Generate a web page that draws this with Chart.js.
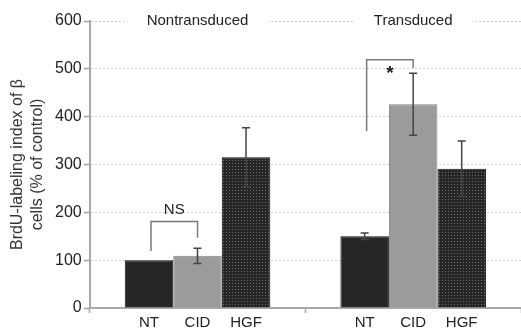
<!DOCTYPE html>
<html>
<head>
<meta charset="utf-8">
<script src="https://cdn.jsdelivr.net/npm/chart.js@4.4.1/dist/chart.umd.min.js"></script>
<style>
    html, body { margin: 0; padding: 0; background: #fff; }
</style>
</head>
<body>
<canvas id="brdu" width="521" height="333"></canvas>
<script>
const groups = ["Nontransduced", "Transduced"];
const treatments = ["NT", "CID", "HGF"];
const ntValues = [100, 150];
const cidValues = [109, 426];
const hgfValues = [315, 291];
const ntErrors = [0, 7];
const cidErrors = [16, 65];
const hgfErrors = [62, 58];
// significance brackets, in data units
const bracketGroups = [0, 1];
const bracketTops = [181, 519];
const bracketLeftFeet = [119, 370];
const bracketRightFeet = [147, 502];
const bracketLabels = ["NS", "*"];
const bracketLabelBase = [197, 478];

const FONT = "'Liberation Sans', Arial, sans-serif";

function dotPattern() {
    const c = document.createElement("canvas");
    c.width = 3;
    c.height = 3;
    const g = c.getContext("2d");
    g.fillStyle = "#262626";
    g.fillRect(0, 0, 3, 3);
    g.fillStyle = "#6a6a6a";
    g.fillRect(1, 1, 1, 1);
    return g.createPattern(c, "repeat");
}

const annotate = {
    id: "annotate",
    afterDatasetsDraw(chart) {
        const ctx = chart.ctx;
        const y = chart.scales.y;
        const vals = [ntValues, cidValues, hgfValues];
        const errs = [ntErrors, cidErrors, hgfErrors];

        // error bars
        ctx.save();
        ctx.strokeStyle = "#444";
        ctx.lineWidth = 1.5;
        errs.forEach((e, di) => {
            chart.getDatasetMeta(di).data.forEach((bar, gi) => {
                if (!e[gi]) return;
                const hi = y.getPixelForValue(vals[di][gi] + e[gi]);
                const lo = y.getPixelForValue(vals[di][gi] - e[gi]);
                ctx.beginPath();
                ctx.moveTo(bar.x, hi);
                ctx.lineTo(bar.x, lo);
                ctx.moveTo(bar.x - 4, hi);
                ctx.lineTo(bar.x + 4, hi);
                ctx.moveTo(bar.x - 4, lo);
                ctx.lineTo(bar.x + 4, lo);
                ctx.stroke();
            });
        });

        // brackets
        ctx.strokeStyle = "#7a7a7a";
        ctx.lineWidth = 1.5;
        ctx.fillStyle = "#222";
        ctx.textAlign = "center";
        ctx.textBaseline = "alphabetic";
        bracketGroups.forEach((g, i) => {
            const x1 = chart.getDatasetMeta(0).data[g].x + 2;
            const x2 = chart.getDatasetMeta(1).data[g].x;
            const top = y.getPixelForValue(bracketTops[i]);
            ctx.beginPath();
            ctx.moveTo(x1, y.getPixelForValue(bracketLeftFeet[i]));
            ctx.lineTo(x1, top);
            ctx.lineTo(x2, top);
            ctx.lineTo(x2, y.getPixelForValue(bracketRightFeet[i]));
            ctx.stroke();
            ctx.font = (bracketLabels[i] === "*" ? "bold 19px " : "15px ") + FONT;
            ctx.fillText(bracketLabels[i], (x1 + x2) / 2, y.getPixelForValue(bracketLabelBase[i]));
        });
        ctx.restore();
    },
    afterDraw(chart) {
        const ctx = chart.ctx;
        const area = chart.chartArea;
        ctx.save();
        ctx.font = "15px " + FONT;
        ctx.textAlign = "center";
        ctx.textBaseline = "middle";

        // group titles at the top
        groups.forEach((name, gi) => {
            const cx = chart.getDatasetMeta(1).data[gi].x;
            const w = ctx.measureText(name).width;
            ctx.fillStyle = "#fff";
            ctx.fillRect(cx - w / 2 - 20, area.top - 4, w + 40, 8);
            ctx.fillStyle = "#222";
            ctx.fillText(name, cx, area.top);
        });

        // treatment labels under each bar
        treatments.forEach((t, di) => {
            chart.getDatasetMeta(di).data.forEach((bar) => {
                ctx.fillText(t, bar.x, 323);
            });
        });
        ctx.restore();
    }
};

const ctx = document.getElementById("brdu").getContext("2d");
new Chart(ctx, {
    type: "bar",
    data: {
        labels: groups,
        datasets: [
            {
                label: "NT",
                data: ntValues,
                backgroundColor: "#262626",
                borderColor: "#111",
                borderWidth: 1,
            },
            {
                label: "CID",
                data: cidValues,
                backgroundColor: "#9b9b9b",
                borderColor: "#858585",
                borderWidth: 1,
            },
            {
                label: "HGF",
                data: hgfValues,
                backgroundColor: dotPattern(),
                borderColor: "#111",
                borderWidth: 1,
            },
        ],
    },
    options: {
        responsive: false,
        animation: false,
        categoryPercentage: 0.675,
        barPercentage: 1,
        layout: { padding: { left: 3, top: 21, right: 0, bottom: 20 } },
        plugins: {
            legend: { display: false },
            tooltip: { enabled: false },
        },
        scales: {
            x: {
                offset: true,
                ticks: { display: false },
                grid: {
                    offset: true,
                    drawOnChartArea: false,
                    tickLength: 5,
                    color: "#a8a8a8",
                    tickWidth: 1.5,
                },
                border: { color: "#a8a8a8", width: 2 },
            },
            y: {
                min: 0,
                max: 600,
                ticks: {
                    stepSize: 100,
                    padding: 2,
                    color: "#222",
                    font: { family: FONT, size: 16 },
                },
                grid: {
                    color: "#d0d0d0",
                    tickColor: "#a0a0a0",
                    tickLength: 6,
                    tickWidth: 1.5,
                },
                border: { color: "#a8a8a8", width: 2, dash: [2, 2] },
                title: {
                    display: true,
                    text: ["BrdU-labeling index of β", "cells (% of control)"],
                    color: "#333",
                    font: { family: FONT, size: 16, lineHeight: 1.25 },
                    padding: { top: 5, bottom: 5 },
                },
            },
        },
    },
    plugins: [annotate],
});
</script>
</body>
</html>
